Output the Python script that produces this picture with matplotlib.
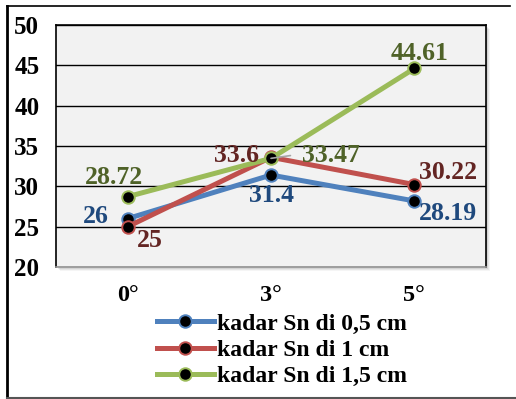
import matplotlib
matplotlib.use("Agg")
import matplotlib.pyplot as plt
from matplotlib.lines import Line2D
from matplotlib.patches import Rectangle

plt.rcParams['font.family'] = ['Liberation Serif', 'DejaVu Serif']
plt.rcParams['font.weight'] = 'bold'

# data
categories = ["0°", "3°", "5°"]
sn_05 = [26, 31.4, 28.19]
sn_1 = [25, 33.6, 30.22]
sn_15 = [28.72, 33.47, 44.61]
series_names = ["kadar Sn di 0,5 cm", "kadar Sn di 1 cm", "kadar Sn di 1,5 cm"]

line_colors = ["#4F81BD", "#C0504D", "#9BBB59"]
label_colors = ["#1F497D", "#632523", "#4F6228"]

# label offsets (points) for each data label
offsets = [
    [(-23, 1.5), (0, -15), (24, -9)],
    [(16, -10), (-25, 1.5), (24, 8.5)],
    [(-10, 14), (43, 2), (4, 11)],
]

fig = plt.figure(figsize=(5.16, 3.99), dpi=100)
W, H = 516, 399
ax = fig.add_axes([56 / W, 132 / H, 430 / W, 242 / H])
ax.set_facecolor("#F2F2F2")

# soft drop shadow behind plot area
for i, a in enumerate([0.10, 0.08, 0.06, 0.04]):
    d = (i + 1) * 1.0
    fig.patches.append(Rectangle(((56 + d) / W, (132 - d) / H), 430 / W, 242 / H,
                                 transform=fig.transFigure, facecolor="black",
                                 alpha=a, edgecolor="none", zorder=-1))

x = range(len(categories))
all_series = [sn_05, sn_1, sn_15]
for vals, lc, name in zip(all_series, line_colors, series_names):
    ax.plot(x, vals, color=lc, lw=3.6, marker="o", markersize=9,
            markerfacecolor="black", markeredgecolor=lc, markeredgewidth=1.4,
            label=name, zorder=3, solid_capstyle="round")

for vals, tc, offs in zip(all_series, label_colors, offsets):
    for i, v in enumerate(vals):
        ax.annotate(f"{v:g}", (i, v), xytext=offs[i], textcoords="offset points",
                    ha="center", va="center", color=tc, fontsize=18.5,
                    fontweight="bold", zorder=5)

# leader line for the 33.47 label
ax.annotate("", (1, sn_15[1]), xytext=(14, 2), textcoords="offset points",
            arrowprops=dict(arrowstyle="-", color="#A6A6A6", lw=1.2,
                            shrinkA=0, shrinkB=0), zorder=4)

ax.set_xlim(-0.5, 2.5)
ax.set_ylim(20, 50)
ax.set_yticks(range(20, 51, 5))
ax.set_xticks(list(x))
ax.set_xticklabels(categories)
ax.tick_params(axis="y", length=0, pad=12, labelsize=18)
ax.tick_params(axis="x", length=0, pad=13, labelsize=17.5)
ax.grid(axis="y", color="black", lw=1)
ax.set_axisbelow(True)
for s in ax.spines.values():
    s.set_color("black")
    s.set_linewidth(1.2)
ax.spines["bottom"].set_color("#999999")

handles = [Line2D([], [], color=lc, lw=3.6, marker="o", markersize=9,
                  markerfacecolor="black", markeredgecolor=lc,
                  markeredgewidth=1.4) for lc in line_colors]
fig.legend(handles, series_names, loc="upper left",
           bbox_to_anchor=(157 / W, (H - 313) / H), frameon=False,
           fontsize=17, handlelength=2.4, handletextpad=0.15,
           labelspacing=0.2, borderpad=0, borderaxespad=0)

# outer chart border
fig.add_artist(Line2D([7 / W, 7 / W], [1 - 6 / H, 1 / H], transform=fig.transFigure,
                      color="black", lw=2))
fig.add_artist(Line2D([7 / W, 510 / W], [1 - 6 / H, 1 - 6 / H], transform=fig.transFigure,
                      color="black", lw=1.2))
fig.add_artist(Line2D([7 / W, 1], [1.5 / H, 1.5 / H], transform=fig.transFigure,
                      color="#555555", lw=1.5))

fig.savefig("out.png", dpi=100)
